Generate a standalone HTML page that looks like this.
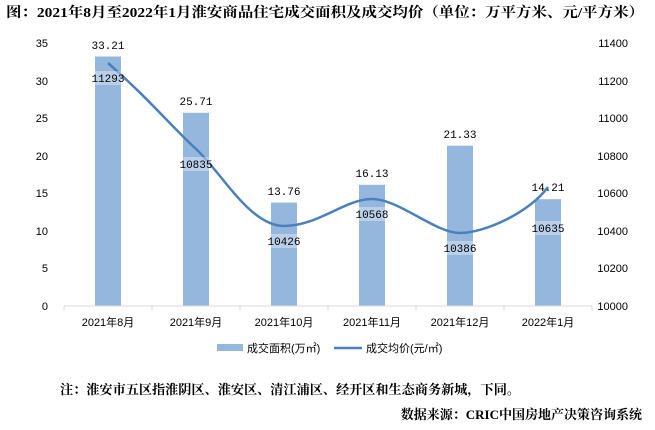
<!DOCTYPE html>
<html><head><meta charset="utf-8"><style>
body{margin:0;background:#fff;}
svg{display:block;font-family:"Liberation Sans","Noto Sans CJK SC",sans-serif;}
</style></head><body>
<svg width="655" height="430" viewBox="0 0 655 430">
<text x="6" y="17" font-size="14" font-weight="bold" textLength="638" lengthAdjust="spacingAndGlyphs" font-family="Liberation Serif,Noto Serif CJK SC,serif">图：2021年8月至2022年1月淮安商品住宅成交面积及成交均价（单位：万平方米、元/平方米）</text>
<g font-size="11" fill="#000">
<text x="48" y="47" text-anchor="end">35</text>
<text x="48" y="85" text-anchor="end">30</text>
<text x="48" y="122" text-anchor="end">25</text>
<text x="48" y="160" text-anchor="end">20</text>
<text x="48" y="197" text-anchor="end">15</text>
<text x="48" y="235" text-anchor="end">10</text>
<text x="48" y="272" text-anchor="end">5</text>
<text x="48" y="310" text-anchor="end">0</text>
<text x="628" y="47" text-anchor="end">11400</text>
<text x="628" y="85" text-anchor="end">11200</text>
<text x="628" y="122" text-anchor="end">11000</text>
<text x="628" y="160" text-anchor="end">10800</text>
<text x="628" y="197" text-anchor="end">10600</text>
<text x="628" y="235" text-anchor="end">10400</text>
<text x="628" y="272" text-anchor="end">10200</text>
<text x="628" y="310" text-anchor="end">10000</text>
</g>
<g fill="#95b7de">
<rect x="95" y="56.5" width="26" height="249.5"/>
<rect x="183" y="112.8" width="26" height="193.2"/>
<rect x="271" y="202.6" width="26" height="103.4"/>
<rect x="359" y="184.8" width="26" height="121.2"/>
<rect x="447" y="145.7" width="26" height="160.3"/>
<rect x="535" y="199.2" width="26" height="106.8"/>
</g>
<line x1="64" y1="306" x2="592" y2="306" stroke="#d9d9d9" stroke-width="1"/>
<g stroke="#d9d9d9"><line x1="64" y1="306" x2="64" y2="311"/><line x1="152" y1="306" x2="152" y2="311"/><line x1="240" y1="306" x2="240" y2="311"/><line x1="328" y1="306" x2="328" y2="311"/><line x1="416" y1="306" x2="416" y2="311"/><line x1="504" y1="306" x2="504" y2="311"/><line x1="592" y1="306" x2="592" y2="311"/></g>
<path d="M108,63 C150,100 170,125 196,149 S250,226 284,226 S345,199 372,199 S435,233 460,233 S530,212 548,187" fill="none" stroke="#4a80bd" stroke-width="2.5"/>
<g font-size="11" text-anchor="middle" font-family="Liberation Mono,monospace">
<text x="108" y="49">33.21</text><text x="196" y="105">25.71</text><text x="284" y="195">13.76</text><text x="372" y="177">16.13</text><text x="460" y="138">21.33</text><text x="548" y="191">14.21</text>
</g>
<g fill="#fff" fill-opacity="0.35">
<rect x="94" y="71" width="28" height="14"/><rect x="182" y="157" width="28" height="14"/><rect x="270" y="234" width="28" height="14"/><rect x="358" y="207" width="28" height="14"/><rect x="446" y="241" width="28" height="14"/><rect x="534" y="221" width="28" height="14"/>
</g>
<g font-size="11" text-anchor="middle" font-family="Liberation Mono,monospace">
<text x="108" y="82">11293</text><text x="196" y="168">10835</text><text x="284" y="245">10426</text><text x="372" y="218">10568</text><text x="460" y="252">10386</text><text x="548" y="232">10635</text>
</g>
<g font-size="11" text-anchor="middle">
<text x="108" y="326">2021年8月</text><text x="196" y="326">2021年9月</text><text x="284" y="326">2021年10月</text><text x="372" y="326">2021年11月</text><text x="460" y="326">2021年12月</text><text x="548" y="326">2022年1月</text>
</g>
<rect x="217" y="344" width="26" height="7" fill="#95b7de"/>
<text x="247" y="352" font-size="11">成交面积(万㎡)</text>
<line x1="334" y1="348" x2="362" y2="348" stroke="#4a80bd" stroke-width="2.5"/>
<text x="366" y="352" font-size="11">成交均价(元/㎡)</text>
<text x="60" y="394" font-size="13" font-weight="bold" textLength="460" lengthAdjust="spacingAndGlyphs" font-family="Liberation Serif,Noto Serif CJK SC,serif">注：淮安市五区指淮阴区、淮安区、清江浦区、经开区和生态商务新城，下同。</text>
<text x="642" y="419" text-anchor="end" font-size="13" font-weight="bold" font-family="Liberation Serif,Noto Serif CJK SC,serif">数据来源：CRIC中国房地产决策咨询系统</text>
</svg>
</body></html>
